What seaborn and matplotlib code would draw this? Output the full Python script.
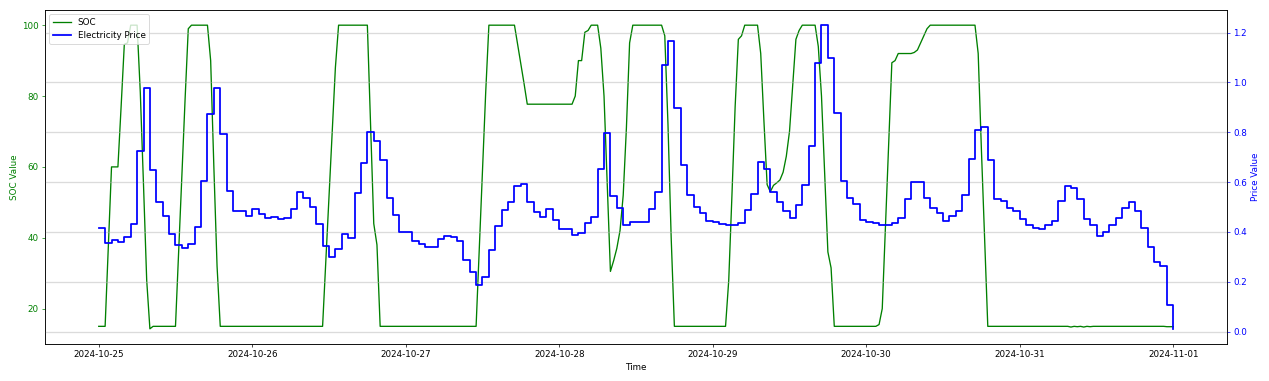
import numpy as np
import pandas as pd
import matplotlib
matplotlib.use("Agg")
import matplotlib.pyplot as plt
import matplotlib.dates as mdates
import seaborn as sns

# ---- data -------------------------------------------------------------
start_time = "2024-10-25 00:00"

# hourly electricity price (h0 .. h168)
price = [
    0.416, 0.356, 0.368, 0.360, 0.379, 0.432, 0.723, 0.976, 0.649, 0.522, 0.463, 0.392,
    0.348, 0.335, 0.352, 0.419, 0.606, 0.874, 0.979, 0.794, 0.566, 0.486, 0.486, 0.463,
    0.493, 0.470, 0.456, 0.459, 0.450, 0.456, 0.493, 0.560, 0.535, 0.499, 0.432, 0.345,
    0.299, 0.332, 0.392, 0.376, 0.556, 0.676, 0.800, 0.764, 0.688, 0.535, 0.467, 0.399,
    0.399, 0.365, 0.352, 0.341, 0.339, 0.371, 0.382, 0.379, 0.365, 0.288, 0.238, 0.185,
    0.218, 0.329, 0.423, 0.489, 0.522, 0.586, 0.592, 0.522, 0.478, 0.459, 0.491, 0.446,
    0.412, 0.410, 0.386, 0.395, 0.435, 0.459, 0.653, 0.798, 0.546, 0.497, 0.426, 0.439,
    0.439, 0.439, 0.493, 0.562, 1.071, 1.165, 0.898, 0.667, 0.550, 0.499, 0.475, 0.442,
    0.439, 0.432, 0.426, 0.426, 0.435, 0.489, 0.553, 0.679, 0.653, 0.560, 0.519, 0.486,
    0.455, 0.510, 0.588, 0.743, 1.078, 1.230, 1.099, 0.878, 0.604, 0.535, 0.513, 0.446,
    0.439, 0.435, 0.426, 0.426, 0.435, 0.456, 0.533, 0.600, 0.600, 0.535, 0.497, 0.475,
    0.442, 0.462, 0.482, 0.549, 0.693, 0.811, 0.821, 0.687, 0.533, 0.526, 0.497, 0.486,
    0.452, 0.426, 0.416, 0.410, 0.426, 0.443, 0.523, 0.584, 0.576, 0.533, 0.452, 0.426,
    0.383, 0.399, 0.428, 0.456, 0.497, 0.519, 0.482, 0.415, 0.341, 0.278, 0.265, 0.108,
    0.011,
]

# half-hourly state of charge, one list per day
soc_day1 = [15, 15, 15, 37.5, 60, 60, 60, 77, 94.6, 95, 100, 100,
            100, 81, 55, 28, 14.3, 15, 15, 15, 15, 15, 15, 15,
            15, 36, 57.5, 79, 99, 100, 100, 100, 100, 100, 100, 90,
            60, 32, 15, 15, 15, 15, 15, 15, 15, 15, 15, 15]
soc_day2 = [15, 15, 15, 15, 15, 15, 15, 15, 15, 15, 15, 15,
            15, 15, 15, 15, 15, 15, 15, 15, 15, 15, 15, 33,
            51.5, 70, 88, 100, 100, 100, 100, 100, 100, 100, 100, 100,
            100, 72, 44, 38, 15, 15, 15, 15, 15, 15, 15, 15]
soc_day3 = [15, 15, 15, 15, 15, 15, 15, 15, 15, 15, 15, 15,
            15, 15, 15, 15, 15, 15, 15, 15, 15, 15, 15, 37,
            59, 81, 100, 100, 100, 100, 100, 100, 100, 100, 100, 94.5,
            89, 83.5, 77.7, 77.7, 77.7, 77.7, 77.7, 77.7, 77.7, 77.7, 77.7, 77.7]
soc_day4 = [77.7, 77.7, 77.7, 77.7, 77.7, 80, 90, 90, 98, 98.5, 100, 100,
            100, 93.5, 80, 55, 30.5, 33.5, 37, 42, 52, 71, 95, 100,
            100, 100, 100, 100, 100, 100, 100, 100, 100, 97, 72, 40,
            15, 15, 15, 15, 15, 15, 15, 15, 15, 15, 15, 15]
soc_day5 = [15, 15, 15, 15, 15, 28, 52, 77, 96, 97, 100, 100,
            100, 100, 100, 92, 73, 55, 53, 54.8, 55.5, 56.3, 58.5, 63,
            70, 83, 96, 98.5, 100, 100, 100, 100, 100, 94, 80, 58,
            36, 31.5, 15, 15, 15, 15, 15, 15, 15, 15, 15, 15]
soc_day6 = [15, 15, 15, 15, 15.5, 20, 43, 66, 89.4, 90, 92, 92,
            92, 92, 92, 92.3, 93, 95, 97, 99, 100, 100, 100, 100,
            100, 100, 100, 100, 100, 100, 100, 100, 100, 100, 100, 92,
            65, 40, 15, 15, 15, 15, 15, 15, 15, 15, 15, 15]
soc_day7 = [15, 15, 15, 15, 15, 15, 15, 15, 15, 15, 15, 15,
            15, 15, 15, 15, 14.8, 15, 14.9, 15, 14.8, 15, 14.9, 15,
            15, 15, 15, 15, 15, 15, 15, 15, 15, 15, 15, 15,
            15, 15, 15, 15, 15, 15, 15, 15, 15, 15, 14.9, 14.9]
soc_end = [14.9]

soc = soc_day1 + soc_day2 + soc_day3 + soc_day4 + soc_day5 + soc_day6 + soc_day7 + soc_end

price_df = pd.DataFrame({
    "Time": pd.date_range(start_time, periods=len(price), freq="h"),
    "Price": price,
})
soc_df = pd.DataFrame({
    "Time": pd.date_range(start_time, periods=len(soc), freq="30min"),
    "SOC": soc,
})

# ---- plot -------------------------------------------------------------
DPI = 63.45
fig = plt.figure(figsize=(1269 / DPI, 381 / DPI), dpi=DPI)
ax1 = fig.add_axes([45 / 1269, 37 / 381, (1227 - 45) / 1269, (344 - 10) / 381])
ax2 = ax1.twinx()

sns.lineplot(data=soc_df, x="Time", y="SOC", ax=ax1, color="green",
             linewidth=1.5, label="SOC")
sns.lineplot(data=price_df, x="Time", y="Price", ax=ax2, color="blue",
             linewidth=2, drawstyle="steps-post", label="Electricity Price")

ax1.set_xlabel("Time")
ax1.set_ylabel("SOC Value", color="green")
ax2.set_ylabel("Price Value", color="blue")
ax1.tick_params(axis="y", colors="green")
ax2.tick_params(axis="y", colors="blue")
for sp in ax2.spines.values():
    sp.set_color("black")

ax1.set_yticks([20, 40, 60, 80, 100])
ax2.set_yticks([0.0, 0.2, 0.4, 0.6, 0.8, 1.0, 1.2])
ax2.grid(True, axis="y", color="#b0b0b0", alpha=0.45, linewidth=1.5)
ax1.grid(False)

ax1.xaxis.set_major_locator(mdates.DayLocator())
ax1.xaxis.set_major_formatter(mdates.DateFormatter("%Y-%m-%d"))

h1, l1 = ax1.get_legend_handles_labels()
h2, l2 = ax2.get_legend_handles_labels()
if ax1.get_legend() is not None:
    ax1.get_legend().remove()
if ax2.get_legend() is not None:
    ax2.get_legend().remove()
ax2.legend(h1 + h2, l1 + l2, loc="upper left")

fig.savefig("out.png", dpi=DPI)
